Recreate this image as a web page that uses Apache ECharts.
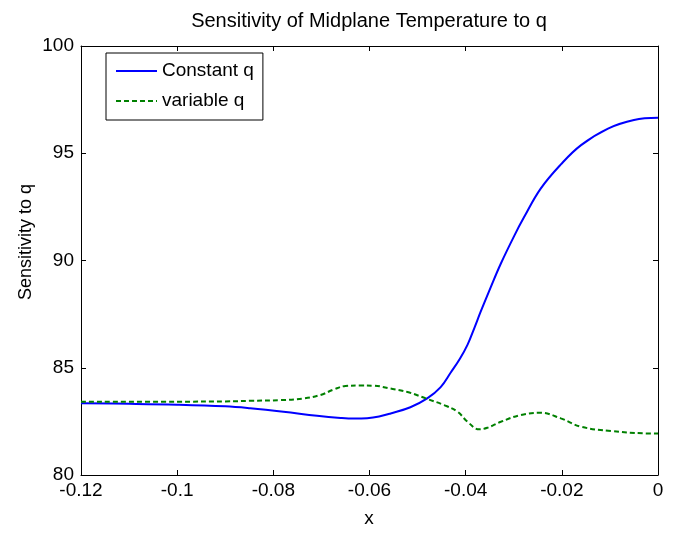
<!DOCTYPE html>
<html>
<head>
<meta charset="utf-8">
<script src="https://cdn.jsdelivr.net/npm/echarts@6/dist/echarts.min.js"></script>
<style>html,body{margin:0;padding:0;background:#fff}#c{width:674px;height:533px}</style>
</head>
<body>
<div id="c"></div>
<script>
const titleText = 'Sensitivity of Midplane Temperature to q';
const xName = 'x';
const yName = 'Sensitivity to q';
const seriesNames = ['Constant q', 'variable q'];

const xConst = [-0.12, -0.11, -0.1, -0.09, -0.0848, -0.0779, -0.0709, -0.066, -0.0632, -0.0605, -0.058, -0.0556, -0.0515, -0.048, -0.0452, -0.0431, -0.0412, -0.0396, -0.0382, -0.0369, -0.0348, -0.0327, -0.0299, -0.0279, -0.0244, -0.0202, -0.016, -0.0104, -0.005, 0];
const yConst = [83.34, 83.32, 83.28, 83.20, 83.11, 82.95, 82.76, 82.66, 82.63, 82.65, 82.73, 82.87, 83.16, 83.57, 84.10, 84.78, 85.42, 86.08, 86.85, 87.60, 88.75, 89.85, 91.15, 92.00, 93.35, 94.48, 95.38, 96.15, 96.55, 96.65];

const xVar = [-0.12, -0.1, -0.09, -0.0848, -0.0785, -0.0737, -0.0702, -0.0674, -0.065, -0.062, -0.0591, -0.0556, -0.0521, -0.0483, -0.0445, -0.0417, -0.0396, -0.0372, -0.0355, -0.0327, -0.0285, -0.0244, -0.0202, -0.016, -0.0098, -0.0029, 0];
const yVar = [83.42, 83.42, 83.43, 83.46, 83.49, 83.57, 83.73, 83.99, 84.15, 84.17, 84.16, 84.03, 83.87, 83.57, 83.26, 82.95, 82.48, 82.13, 82.20, 82.48, 82.80, 82.90, 82.64, 82.25, 82.05, 81.94, 81.93];

const xMin = -0.12, xMax = 0, xStep = 0.02;
const yMin = 80, yMax = 100, yStep = 5;

const pairs = (xs, ys) => xs.map((x, i) => [x, ys[i]]);
const FONT = 'Liberation Sans, Arial, Helvetica, sans-serif';
const axisCommon = {
  axisLine: {show: true, onZero: false, lineStyle: {color: '#000', width: 1}},
  axisTick: {show: true, inside: true, length: 5, lineStyle: {color: '#000'}},
  splitLine: {show: false}
};
const chart = echarts.init(document.getElementById('c'), null, {renderer: 'canvas'});
chart.setOption({
  animation: false,
  backgroundColor: '#fff',
  grid: {left: 81, right: 16, top: 46, bottom: 58, containLabel: false},
  xAxis: [
    Object.assign({type: 'value', position: 'bottom', min: xMin, max: xMax, interval: xStep,
      axisLabel: {color: '#000', fontSize: 19, fontFamily: FONT, margin: 6,
        formatter: v => String(+v.toFixed(2))}}, axisCommon),
    Object.assign({type: 'value', position: 'top', min: xMin, max: xMax, interval: xStep,
      axisLabel: {show: false}}, axisCommon)
  ],
  yAxis: [
    Object.assign({type: 'value', position: 'left', min: yMin, max: yMax, interval: yStep,
      axisLabel: {color: '#000', fontSize: 19, fontFamily: FONT, margin: 7}}, axisCommon),
    Object.assign({type: 'value', position: 'right', min: yMin, max: yMax, interval: yStep,
      axisLabel: {show: false}}, axisCommon)
  ],
  legend: {
    orient: 'vertical', left: 106, top: 53,
    padding: [8, 9, 9, 9], itemGap: 10, itemWidth: 41, itemHeight: 20,
    backgroundColor: '#fff', borderColor: '#000', borderWidth: 1,
    itemStyle: {color: 'transparent', borderColor: 'transparent', borderWidth: 0},
    textStyle: {color: '#000', fontSize: 19, fontFamily: FONT, lineHeight: 20},
    data: seriesNames
  },
  graphic: [
    {type: 'text', x: 369, y: 21, style: {text: titleText, fill: '#000', font: '20px ' + FONT, textAlign: 'center', textVerticalAlign: 'middle'}},
    {type: 'text', x: 369, y: 519, style: {text: xName, fill: '#000', font: '19px ' + FONT, textAlign: 'center', textVerticalAlign: 'middle'}},
    {type: 'text', x: 26, y: 242, rotation: Math.PI / 2, style: {text: yName, fill: '#000', font: '18px ' + FONT, textAlign: 'center', textVerticalAlign: 'middle'}}
  ],
  series: [
    {name: seriesNames[0], type: 'line', data: pairs(xConst, yConst), symbol: 'none', showSymbol: false,
      smooth: 0.4, lineStyle: {color: '#0000ff', width: 2}, itemStyle: {color: '#0000ff'}},
    {name: seriesNames[1], type: 'line', data: pairs(xVar, yVar), symbol: 'none', showSymbol: false,
      smooth: 0.4, lineStyle: {color: '#008000', width: 2, type: [5, 3]}, itemStyle: {color: '#008000'}}
  ]
});
</script>
</body>
</html>
